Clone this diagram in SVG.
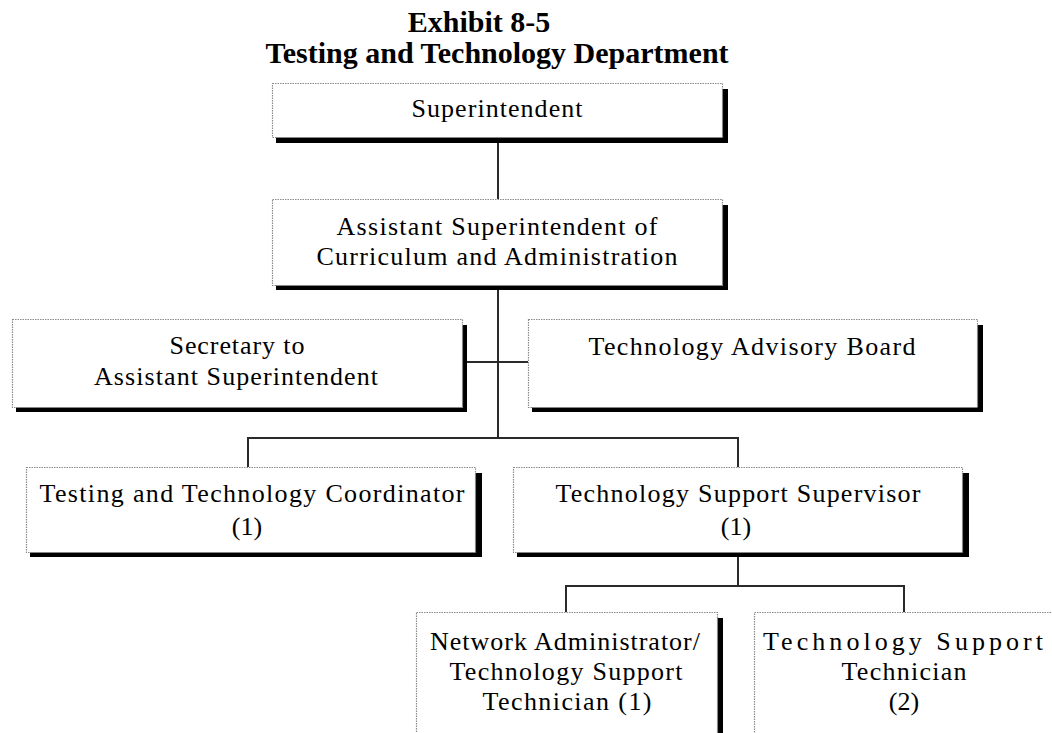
<svg xmlns="http://www.w3.org/2000/svg" width="1052" height="733" viewBox="0 0 1052 733">
  <style>
    .title { font-family: "Liberation Serif", "Times New Roman", serif; font-weight: bold; font-size: 30px; fill: #000; text-anchor: middle; }
    .lbl { font-family: "Liberation Serif", "Times New Roman", serif; font-size: 26px; fill: #000; text-anchor: middle; }
    .box { fill: #fff; stroke: #8a8a8a; stroke-width: 1.2; stroke-dasharray: 1.5 1; }
    .shadow { fill: #000; }
    .link { fill: none; stroke: #2a2a2a; stroke-width: 2; }
  </style>
  <rect width="1052" height="733" fill="#fff"/>

  <text class="title" x="479" y="32">Exhibit 8-5</text>
  <text class="title" x="497" y="63">Testing and Technology Department</text>

  <!-- org-chart connectors -->
  <g id="connectors">
    <path class="link" d="M498 142 V199"/>
    <path class="link" d="M498 290 V438"/>
    <path class="link" d="M466 362 H528"/>
    <path class="link" d="M248 467 V438 H738 V467"/>
    <path class="link" d="M738 557 V586"/>
    <path class="link" d="M566 612 V586 H904 V612"/>
  </g>

  <!-- each box: black drop shadow offset down-right, then the dotted white frame -->
  <g id="superintendent">
    <rect class="shadow" x="276" y="89" width="452" height="54"/>
    <rect class="box" x="272.5" y="83.5" width="450" height="54"/>
    <text class="lbl" x="497" y="117" textLength="171" lengthAdjust="spacing">Superintendent</text>
  </g>

  <g id="asst-superintendent">
    <rect class="shadow" x="276" y="205" width="452" height="85"/>
    <rect class="box" x="272.5" y="199.5" width="450" height="86"/>
    <text class="lbl" x="497" y="235" textLength="321" lengthAdjust="spacing">Assistant Superintendent of</text>
    <text class="lbl" x="497" y="265" textLength="361" lengthAdjust="spacing">Curriculum and Administration</text>
  </g>

  <g id="secretary">
    <rect class="shadow" x="16" y="325" width="451" height="87"/>
    <rect class="box" x="12.5" y="319.5" width="450" height="88"/>
    <text class="lbl" x="237" y="354" textLength="135" lengthAdjust="spacing">Secretary to</text>
    <text class="lbl" x="236" y="385" textLength="284" lengthAdjust="spacing">Assistant Superintendent</text>
  </g>

  <g id="advisory-board">
    <rect class="shadow" x="532" y="325" width="451" height="87"/>
    <rect class="box" x="528.5" y="319.5" width="449" height="88"/>
    <text class="lbl" x="752" y="355" textLength="327" lengthAdjust="spacing">Technology Advisory Board</text>
  </g>

  <g id="testing-coordinator">
    <rect class="shadow" x="30" y="473" width="452" height="84"/>
    <rect class="box" x="26.5" y="467.5" width="449" height="85"/>
    <text class="lbl" x="252" y="502" textLength="425" lengthAdjust="spacing">Testing and Technology Coordinator</text>
    <text class="lbl" x="247" y="535">(1)</text>
  </g>

  <g id="support-supervisor">
    <rect class="shadow" x="517" y="473" width="452" height="84"/>
    <rect class="box" x="513.5" y="467.5" width="449" height="85"/>
    <text class="lbl" x="738" y="502" textLength="365" lengthAdjust="spacing">Technology Support Supervisor</text>
    <text class="lbl" x="736" y="535">(1)</text>
  </g>

  <g id="network-admin">
    <rect class="shadow" x="420" y="618" width="303" height="130"/>
    <rect class="box" x="416.5" y="612.5" width="301" height="130"/>
    <text class="lbl" x="565" y="650" textLength="270" lengthAdjust="spacing">Network Administrator/</text>
    <text class="lbl" x="566" y="680" textLength="233" lengthAdjust="spacing">Technology Support</text>
    <text class="lbl" x="567" y="710" textLength="169" lengthAdjust="spacing">Technician (1)</text>
  </g>

  <g id="support-technician">
    <rect class="shadow" x="758" y="618" width="303" height="130"/>
    <rect class="box" x="754.5" y="612.5" width="300" height="130"/>
    <text class="lbl" x="903" y="650" textLength="280" lengthAdjust="spacing">Technology Support</text>
    <text class="lbl" x="904" y="680" textLength="125" lengthAdjust="spacing">Technician</text>
    <text class="lbl" x="904" y="710">(2)</text>
  </g>
</svg>
